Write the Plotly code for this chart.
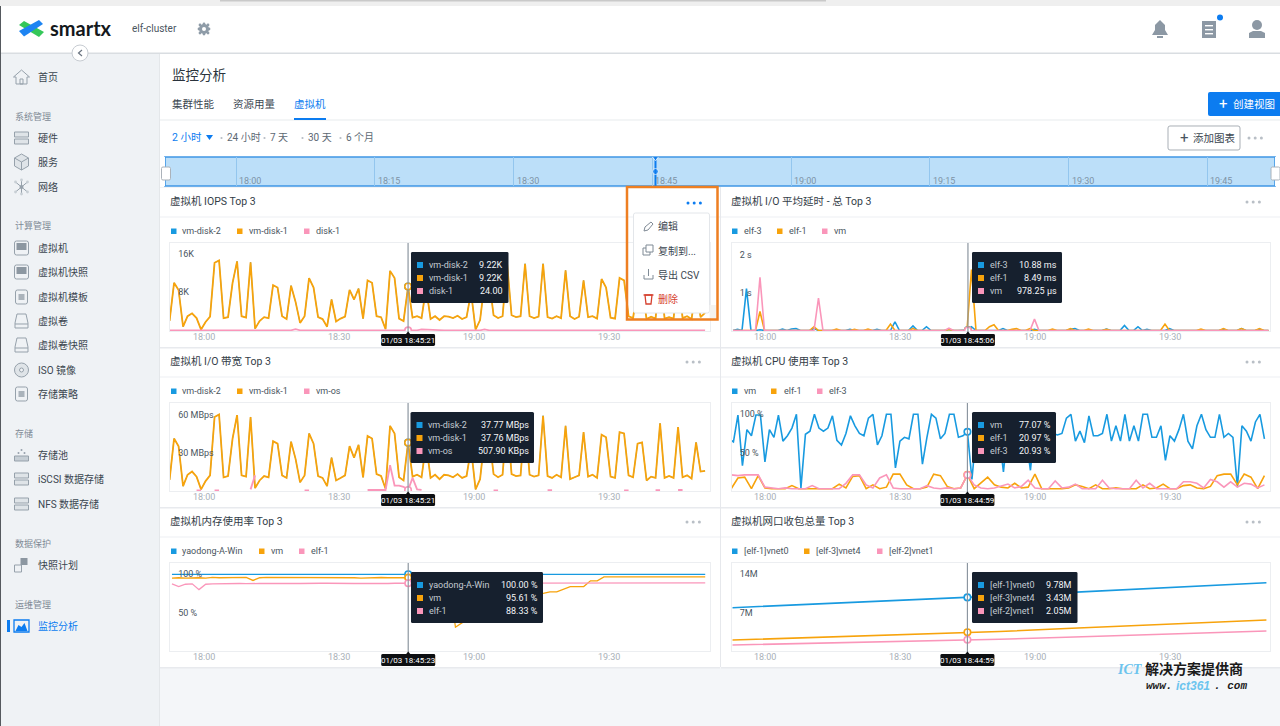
import datetime as dt
import pandas as pd
import plotly.graph_objects as go

W, H = 1280, 726
FONT = "Roboto, 'Noto Sans CJK SC', sans-serif"
BLUE = "#189ae0"
ORANGE = "#f7a30c"
PINK = "#fa96ba"
ACCENT = "#0c7cf0"
DARK = "#16202e"

# ---- chart values ----
iops_names = ["vm-disk-2", "vm-disk-1", "disk-1"]
iops_disk1 = [2.0, 10.0, 8.5, 0.8, 3.0, 3.6, 2.6, 0.2, 1.8, 2.9,
              14.2, 14.7, 2.6, 2.8, 10.0, 14.5, 3.0, 2.7, 14.3, 0.4,
              2.0, 2.8, 2.6, 9.5, 9.0, 3.0, 2.4, 9.4, 6.0, 1.6,
              3.0, 11.0, 9.0, 2.8, 2.4, 0.8, 6.5, 1.9, 2.5, 2.9,
              8.5, 6.5, 8.8, 2.5, 10.5, 10.0, 3.0, 2.8, 0.3, 12.5,
              11.0, 2.5, 2.0, 9.22, 2.7, 3.0, 2.6, 9.0, 2.4, 3.0,
              2.2, 3.0, 2.9, 2.6, 3.1, 2.4, 2.8, 8.0, 0.2, 2.2,
              10.0, 10.8, 3.2, 2.6, 3.0, 14.1, 3.2, 2.8, 3.0, 14.0,
              3.0, 2.6, 2.9, 14.0, 2.8, 2.5, 3.0, 2.6, 12.6, 3.0,
              2.4, 2.9, 10.5, 2.8, 3.0, 2.5, 10.8, 9.0, 2.7, 2.5,
              11.0, 10.5, 3.0, 2.6, 9.0, 9.0, 2.4, 2.9, 2.5, 13.0,
              2.5, 2.8, 2.5, 12.0, 2.6, 3.0, 2.4, 9.3, 2.8, 3.7]
iops_other = [0.05, 0.05, 0.05, 0.05, 0.05, 0.05, 0.05, 0.05, 0.05, 0.05,
              0.05, 0.05, 0.05, 0.05, 0.05, 0.05, 0.05, 0.05, 0.1, 0.05,
              0.05, 0.05, 0.05, 0.05, 0.05, 0.05, 0.05, 0.05, 0.3, 0.05,
              0.05, 0.05, 0.05, 0.05, 0.05, 0.05, 0.05, 0.05, 0.05, 0.05,
              0.05, 0.05, 0.05, 0.2, 0.05, 0.05, 0.05, 0.05, 0.05, 0.05,
              0.05, 0.05, 0.05, 0.024, 0.05, 0.05, 0.25, 0.2, 0.05, 0.05,
              0.05, 0.05, 0.05, 0.05, 0.05, 0.05, 0.05, 0.05, 0.05, 0.05,
              0.25, 0.05, 0.05, 0.05, 0.05, 0.05, 0.05, 0.05, 0.05, 0.05,
              0.05, 0.05, 0.05, 0.05, 0.2, 0.05, 0.05, 0.05, 0.05, 0.05,
              0.05, 0.05, 0.05, 0.05, 0.2, 0.05, 0.05, 0.05, 0.05, 0.05,
              0.05, 0.05, 0.05, 0.05, 0.05, 0.05, 0.05, 0.05, 0.05, 0.05,
              0.05, 0.05, 0.05, 0.05, 0.05, 0.05, 0.15, 0.05, 0.05, 0.0]
iops_ticks = [8, 16]
iops_ticktext = ["8K", "16K"]
iops_hover = [9.22, 9.22, 0.024]
iops_tip = ["9.22K", "9.22K", "24.00"]

latency_names = ["elf-3", "elf-1", "vm"]
latency_elf3 = [0, 0.03, 0, 1.1, 0, 0, 0.02, 0, 0, 0, 0, 0.04, 0, 0.04, 0.05, 0, 0, 0, 0.05, 0,
                0, 0, 0, 0, 0, 0, 0.03, 0, 0, 0, 0, 0, 0.03, 0, 0, 0, 0.23, 0, 0, 0,
                0.12, 0, 0, 0.1, 0, 0, 0, 0, 0.03, 0, 0, 0, 0.011, 0.1, 0, 0, 0, 0, 0, 0,
                0.05, 0, 0, 0, 0, 0, 0, 0.03, 0, 0, 0, 0, 0, 0, 0, 0.03, 0.05, 0, 0, 0,
                0, 0, 0, 0.04, 0, 0, 0, 0.13, 0, 0, 0.1, 0, 0.03, 0, 0, 0, 0, 0.05, 0, 0,
                0, 0, 0, 0, 0, 0, 0, 0, 0, 0.03, 0, 0, 0, 0.05, 0, 0, 0, 0.03, 0, 0]
latency_elf1 = [0, 0, 0, 0, 0, 0, 0.5, 0, 0, 0, 0, 0, 0, 0, 0, 0, 0, 0, 0.1, 0,
                0, 0, 0, 0.04, 0, 0, 0, 0.03, 0, 0, 0.04, 0, 0, 0, 0, 0.17, 0, 0, 0, 0,
                0.05, 0, 0, 0, 0, 0, 0, 0, 0.03, 0, 0, 0, 0.008, 1.6, 0, 0, 0, 0.1, 0.15, 0,
                0, 0, 0.03, 0.05, 0, 0, 0.05, 0, 0, 0, 0, 0.04, 0, 0, 0, 0.05, 0, 0, 0, 0.04,
                0, 0, 0, 0.03, 0, 0, 0, 0, 0, 0, 0, 0, 0, 0, 0, 0, 0.17, 0, 0, 0,
                0, 0, 0, 0, 0.04, 0, 0, 0, 0, 0.05, 0, 0, 0, 0.05, 0, 0, 0, 0.05, 0, 0]
latency_vm = [0, 0, 0, 0, 0, 0, 1.4, 0, 0, 0, 0, 0, 0, 0, 0, 0, 0, 0, 0, 0.85,
              0, 0, 0, 0, 0, 0, 0, 0, 0, 0, 0, 0, 0, 0, 0, 0, 0, 0, 0, 0,
              0, 0, 0, 0, 0, 0, 0, 0, 0.06, 0, 0, 0, 0.001, 0, 0, 0, 0, 0, 0, 0,
              0, 0, 0, 0, 0, 0, 0, 0.3, 0, 0, 0, 0, 0, 0, 0, 0, 0, 0, 0, 0,
              0, 0, 0, 0, 0, 0, 0, 0, 0, 0, 0, 0, 0, 0, 0, 0, 0, 0, 0, 0,
              0, 0, 0, 0, 0, 0, 0, 0, 0, 0, 0, 0, 0, 0, 0, 0, 0, 0, 0, 0]
latency_ticks = [1, 2]
latency_ticktext = ["1 s", "2 s"]
latency_hover = [0.011, 0.008, 0.001]
latency_tip = ["10.88 ms", "8.49 ms", "978.25 μs"]

bw_names = ["vm-disk-2", "vm-disk-1", "vm-os"]
bw_disk1 = [8.5, 41, 35, 3.5, 12.5, 15, 11, 1, 7.5, 12,
            58, 60, 10.5, 11.5, 41, 59.5, 12, 11, 58, 2,
            8, 11.5, 10.5, 39, 37, 12, 10, 38.5, 25, 6.5,
            12, 45, 37, 11.5, 10, 3.5, 26, 8, 10, 12,
            35, 26, 36, 10.5, 43, 41, 13, 11.5, 1.5, 51,
            45, 10.5, 8, 37.76, 11, 12.5, 10.5, 37, 10, 12.5,
            9, 12.5, 12, 10.5, 13, 10, 11.5, 33, 1, 9,
            41, 44, 13, 10.5, 12.5, 58, 13, 11.5, 12, 57,
            12.5, 11, 12, 59, 11.5, 10, 12.5, 10.5, 51, 9,
            10.5, 12, 46, 11, 12.5, 10, 44, 42, 11, 10,
            46, 45, 12, 10.5, 37, 38, 8, 11, 10, 53,
            10, 11.5, 10, 50, 10.5, 12, 9.5, 38, 15, 15.5]
bw_os = [None, None, None, None, None, None, 0.2, 0.2, None, None,
         0.2, 0.2, None, None, None, None, None, None, 1, 12,
         None, None, None, None, None, None, None, None, None, None,
         0.2, 0.2, None, None, None, None, None, None, None, None,
         None, None, None, None, 0.5, 0.6, 0.5, 0.6, 0.5, 20,
         4, 4, 3, 0.5, 10, 1, 0.5, None, None, None,
         None, None, None, None, None, None, None, None, None, None,
         None, None, 0.2, 0.2, None, None, None, None, None, None,
         None, None, None, None, 0.4, 0.4, None, None, None, None,
         None, None, None, None, None, None, None, None, None, None,
         None, 0.2, 0.2, None, None, None, None, None, 0.4, 0.4,
         None, None, None, 0.5, 0.5, None, None, None, None, None]
bw_ticks = [30, 60]
bw_ticktext = ["30 MBps", "60 MBps"]
bw_hover = [37.77, 37.76, 0.5]
bw_tip = ["37.77 MBps", "37.76 MBps", "507.90 KBps"]

cpu_names = ["vm", "elf-1", "elf-3"]
cpu_vm = [68, 64, 99, 33, 80, 72, 99, 99, 38, 80,
          70, 99, 65, 72, 82, 100, 4, 74, 78, 100,
          82, 78, 82, 98, 66, 60, 75, 98, 85, 75,
          72, 95, 100, 60, 72, 100, 100, 30, 65, 70,
          68, 100, 100, 35, 70, 100, 95, 68, 75, 100,
          100, 70, 72, 77.07, 15, 80, 85, 90, 70, 80,
          75, 25, 80, 78, 85, 75, 70, 27, 85, 75,
          75, 70, 75, 73, 75, 95, 100, 65, 78, 63,
          98, 72, 72, 75, 100, 65, 85, 65, 100, 65,
          85, 65, 100, 100, 70, 70, 85, 40, 72, 65,
          80, 100, 65, 55, 85, 100, 80, 70, 70, 100,
          70, 75, 70, 5, 85, 78, 65, 90, 100, 68]
cpu_elf1 = [3, 17, 18, 3, 20, 4, 3, 3, 3, 7,
            3, 3, 3, 3, 3, 3, 9, 4, 19, 20,
            3, 8, 3, 5, 22, 22, 8, 3, 3, 5,
            22, 20, 6, 3, 4, 20.97, 3, 10, 18, 8,
            5, 4, 10, 4, 5, 22, 3, 3, 3, 3,
            4, 8, 6, 3, 8, 3, 3, 4, 3, 3,
            3, 8, 3, 4, 9, 3, 3, 7, 8, 4,
            3, 6, 20, 22, 22, 8, 22, 18, 3, 20]
cpu_elf3 = [21, 20, 21, 21, 21, 5, 4, 3, 4, 3,
            3, 3, 7, 3, 3, 3, 3, 10, 21, 21,
            8, 4, 17, 21, 4, 3, 3, 3, 3, 7,
            4, 3, 4, 3, 4, 20.93, 8, 4, 3, 4,
            7, 9, 4, 6, 14, 4, 3, 3, 13, 4,
            5, 9, 3, 3, 3, 14, 4, 3, 3, 3,
            14, 4, 10, 3, 3, 3, 3, 12, 12, 10,
            4, 15, 12, 5, 12, 5, 10, 9, 4, 8]
cpu_ticks = [50, 100]
cpu_ticktext = ["50 %", "100 %"]
cpu_hover = [77.07, 20.97, 20.93]
cpu_tip = ["77.07 %", "20.97 %", "20.93 %"]

mem_names = ["yaodong-A-Win", "vm", "elf-1"]
mem_win = [100.0, 100.0, 100.0, 100.0, 100.0, 100.0, 100.0, 100.0, 100.0, 100.0,
           100.0, 100.0, 100.0, 100.0, 100.0, 100.0, 100.0, 100.0, 100.0, 100.0,
           100.0, 100.0, 100.0, 100.0, 100.0, 100.0, 100.0, 100.0, 100.0, 100.0,
           100.0, 100.0, 100.0, 100.0, 100.0, 100.0, 100.0, 100.0, 100.0, 100.0,
           100.0, 100.0, 100.0, 100.0, 100.0, 100.0, 100.0, 100.0, 100.0, 100.0,
           100.0, 100.0, 100.0, 100.0, 100.0, 100.0, 100.0, 100.0, 100.0, 100.0,
           100.0, 100.0, 100.0, 100.0, 100.0, 100.0, 100.0, 100.0, 100.0, 100.0,
           100.0, 100.0, 100.0, 100.0, 100.0, 100.0, 100.0, 100.0, 100.0, 100.0]
mem_vm = [95.0, 95.5, 95.0, 95.5, 95.5, 95.0, 96.0, 95.5, 95.5, 95.5,
          95.5, 96.0, 92.0, 95.5, 96.0, 96.0, 95.5, 95.5, 96.0, 95.5,
          95.5, 95.8, 95.5, 96.0, 95.5, 95.8, 95.5, 95.5, 95.0, 95.5,
          95.5, 95.8, 95.5, 95.5, 96.0, 95.61, 95.5, 95.5, 95.8, 95.5,
          95.5, 95.0, 31.0, 37.0, 40.0, 45.0, 50.0, 54.0, 58.0, 62.0,
          65.0, 68.0, 70.0, 72.0, 74.0, 75.0, 77.0, 77.0, 80.0, 84.0,
          84.0, 84.0, 91.5, 91.5, 96.5, 96.5, 96.8, 96.5, 96.8, 96.5,
          96.5, 96.8, 96.5, 96.5, 96.8, 96.5, 96.0, 96.8, 96.5, 96.5]
mem_elf1 = [87.5, 84.0, 87.0, 87.5, 80.0, 87.0, 87.5, 87.8, 88.0, 88.0,
            88.0, 87.8, 88.2, 88.0, 88.0, 87.8, 88.0, 88.2, 88.0, 88.0,
            87.8, 88.0, 88.3, 88.3, 88.0, 88.2, 88.3, 88.0, 88.2, 88.0,
            88.3, 88.2, 88.0, 88.3, 88.2, 88.33, 88.3, 88.2, 88.3, 88.0,
            88.3, 88.5, 88.3, 88.3, 88.5, 88.2, 88.3, 88.5, 88.3, 88.5,
            88.5, 88.3, 88.5, 88.5, 88.5, 88.8, 88.8, 88.5, 88.8, 88.5,
            88.8, 88.5, 88.8, 88.8, 89.0, 88.8, 88.8, 89.2, 88.8, 88.8,
            89.0, 88.8, 88.8, 89.0, 88.8, 89.2, 88.8, 88.8, 89.0, 88.8]
mem_ticks = [50, 100]
mem_ticktext = ["50 %", "100 %"]
mem_hover = [100.0, 95.61, 88.33]
mem_tip = ["100.00 %", "95.61 %", "88.33 %"]

net_names = ["[elf-1]vnet0", "[elf-3]vnet4", "[elf-2]vnet1"]
net_vnet0 = [7.9, 8.42, 8.97, 9.5, 10.06, 10.65, 11.25, 11.85, 12.46]
net_vnet4 = [2.0, 2.4, 2.8, 3.2, 3.55, 4.1, 4.6, 5.1, 5.65]
net_vnet1 = [1.1, 1.35, 1.6, 1.85, 2.15, 2.5, 2.85, 3.25, 3.65]
net_ticks = [7, 14]
net_ticktext = ["7M", "14M"]
net_hover = [9.78, 3.43, 2.05]
net_tip = ["9.78M", "3.43M", "2.05M"]

overview_ticks = ["18:00", "18:15", "18:30", "18:45", "19:00", "19:15", "19:30", "19:45"]
axis_ticks = ["18:00", "18:30", "19:00", "19:30"]

nav_items = ["首页", "硬件", "服务", "网络", "虚拟机", "虚拟机快照", "虚拟机模板", "虚拟卷", "虚拟卷快照",
             "ISO 镜像", "存储策略", "存储池", "iSCSI 数据存储", "NFS 数据存储", "快照计划", "监控分析"]
nav_y = [77, 138, 162, 187, 248, 272, 297, 321, 345, 370, 394, 455, 479, 504, 565, 626]
nav_icon = ["home", "server", "cube", "net", "screen", "screen", "doc", "disk", "disk",
            "cd", "doc", "pool", "server", "server", "snap", "chart"]
nav_sections = ["系统管理", "计算管理", "存储", "数据保护", "运维管理"]
nav_section_y = [116, 226, 433, 543, 604]

DAY = "2018-01-03 "


def tm(s):
    return pd.Timestamp(DAY + s)


shapes = []
annots = []


def px(x):
    return x / W


def py(y):
    return 1 - y / H


def rect(x0, y0, x1, y1, fill=None, line=None, lw=1, layer="below"):
    shapes.append(dict(type="rect", xref="paper", yref="paper", x0=px(x0), x1=px(x1), y0=py(y0), y1=py(y1),
                       fillcolor=fill or "rgba(0,0,0,0)", line=dict(color=line or "rgba(0,0,0,0)", width=lw if line else 0),
                       layer=layer))


def circle(cx, cy, r, fill=None, line=None, lw=1, layer="below"):
    shapes.append(dict(type="circle", xref="paper", yref="paper", x0=px(cx - r), x1=px(cx + r), y0=py(cy - r), y1=py(cy + r),
                       fillcolor=fill or "rgba(0,0,0,0)", line=dict(color=line or "rgba(0,0,0,0)", width=lw if line else 0),
                       layer=layer))


def poly(points, fill=None, line=None, lw=1, layer="below", close=True):
    d = "M" + " L".join("%.5f,%.5f" % (px(a), py(b)) for a, b in points)
    if close:
        d += " Z"
    shapes.append(dict(type="path", xref="paper", yref="paper", path=d, fillcolor=fill or "rgba(0,0,0,0)",
                       line=dict(color=line or "rgba(0,0,0,0)", width=lw if line else 0), layer=layer))


def rrect(x0, y0, x1, y1, r=2, fill=None, line=None, lw=1, layer="below"):
    d = ("M%.5f,%.5f L%.5f,%.5f Q%.5f,%.5f %.5f,%.5f L%.5f,%.5f Q%.5f,%.5f %.5f,%.5f "
         "L%.5f,%.5f Q%.5f,%.5f %.5f,%.5f L%.5f,%.5f Q%.5f,%.5f %.5f,%.5f Z") % (
        px(x0 + r), py(y0), px(x1 - r), py(y0), px(x1), py(y0), px(x1), py(y0 + r),
        px(x1), py(y1 - r), px(x1), py(y1), px(x1 - r), py(y1),
        px(x0 + r), py(y1), px(x0), py(y1), px(x0), py(y1 - r),
        px(x0), py(y0 + r), px(x0), py(y0), px(x0 + r), py(y0))
    shapes.append(dict(type="path", xref="paper", yref="paper", path=d, fillcolor=fill or "rgba(0,0,0,0)",
                       line=dict(color=line or "rgba(0,0,0,0)", width=lw if line else 0), layer=layer))


def text(x, y, s, size=10, color="#3b4650", anchor="left", family=FONT):
    annots.append(dict(xref="paper", yref="paper", x=px(x), y=py(y), text=s, showarrow=False, xanchor=anchor,
                       yanchor="middle", font=dict(size=size, color=color, family=family),
                       borderpad=0, borderwidth=0))


def axis_label(axis, t, y, color, xshift=0):
    # tick text placed through the axis' own time scale
    annots.append(dict(xref=axis, yref="paper", x=DAY + t + ":00", y=py(y), text=t, showarrow=False, xanchor="center",
                       yanchor="middle", xshift=xshift, font=dict(size=9, color=color, family=FONT),
                       borderpad=0, borderwidth=0))


def dots(x, y, color="#b9bfc6", layer="below"):
    for k in range(3):
        circle(x + k * 6.2, y, 1.5, fill=color, layer=layer)


def nav_icon_draw(kind, cx, cy, color="#96a1ab"):
    if kind == "home":
        poly([(cx - 8, cy), (cx, cy - 7), (cx + 8, cy), (cx + 5.5, cy), (cx + 5.5, cy + 7), (cx - 5.5, cy + 7), (cx - 5.5, cy)],
             line=color)
        rect(cx - 1.5, cy + 2, cx + 1.5, cy + 7, line=color)
    elif kind == "server":
        rect(cx - 7, cy - 6, cx + 7, cy - 1, fill="#dfe4e8", line=color)
        rect(cx - 7, cy + 1, cx + 7, cy + 6, fill="#dfe4e8", line=color)
    elif kind == "cube":
        poly([(cx, cy - 8), (cx + 7, cy - 4), (cx + 7, cy + 4), (cx, cy + 8), (cx - 7, cy + 4), (cx - 7, cy - 4)],
             fill="#dfe4e8", line=color)
        poly([(cx - 7, cy - 4), (cx, cy), (cx + 7, cy - 4)], line=color, close=False)
        poly([(cx, cy), (cx, cy + 8)], line=color, close=False)
    elif kind == "net":
        circle(cx, cy, 2, fill=color)
        for a, b in [(-6, -5), (6, -5), (-6, 5), (6, 5), (0, -7), (0, 7)]:
            poly([(cx, cy), (cx + a, cy + b)], line=color, close=False)
            circle(cx + a, cy + b, 1.4, fill="#c8cfd5")
    elif kind == "screen":
        rrect(cx - 7, cy - 7, cx + 7, cy + 7, r=2, line=color)
        rect(cx - 5, cy - 5, cx + 5, cy + 2, fill="#8c97a1")
    elif kind == "doc":
        rrect(cx - 6, cy - 7, cx + 6, cy + 7, r=2, line=color)
        rect(cx - 3, cy - 3, cx + 3, cy + 3, fill="#aab3bb")
    elif kind == "disk":
        poly([(cx - 4.5, cy - 7), (cx + 4.5, cy - 7), (cx + 6.5, cy + 2), (cx + 6.5, cy + 7), (cx - 6.5, cy + 7), (cx - 6.5, cy + 2)],
             line=color)
        poly([(cx - 6.5, cy + 3), (cx + 6.5, cy + 3)], line=color, close=False)
    elif kind == "cd":
        circle(cx, cy, 7, fill="#dfe4e8", line=color)
        circle(cx, cy, 2, fill="#f0f2f5", line=color)
    elif kind == "pool":
        rect(cx - 7, cy + 1, cx + 7, cy + 6, fill="#c6ced5", line=color)
        for a, b in [(-3, -2), (0, -5), (3, -2)]:
            circle(cx + a, cy + b, 1, fill=color)
    elif kind == "snap":
        rect(cx - 1, cy - 7, cx + 6, cy, fill="#8c97a1")
        rect(cx - 7, cy, cx, cy + 7, line=color)
    elif kind == "chart":
        rect(cx - 7.5, cy - 6, cx + 7.5, cy + 6, line=ACCENT, lw=1.3)
        poly([(cx - 6, cy + 5), (cx - 3, cy - 1), (cx, cy + 1), (cx + 3, cy - 3), (cx + 6, cy + 5)], fill=ACCENT)


def build_chrome():
    # page backgrounds
    rect(0, 0, W, 6, fill="#efefef")
    rect(220, 0, 826, 1.6, fill="#c9c9c9")
    rect(0, 6, W, 53, fill="#ffffff")
    rect(0, 52.5, W, 54, fill="#d9dde1")
    rect(0, 54, 160, H, fill="#eff2f5")
    rect(159, 54, 160, H, fill="#e4e7ea")
    rect(160, 54, W, 667, fill="#ffffff")
    rect(0, 6, 1, H, fill="#55595e")

    # header
    poly([(19, 25), (24, 21), (44, 32), (39, 37)], fill="#35c759")
    poly([(19, 31), (39, 20), (43, 24), (24, 36.5)], fill="#1d84f2")
    text(50, 28, "<b>smartx</b>", size=20, color="#14181c", family="Lato, Inter, sans-serif")
    text(132, 28.5, "elf-cluster", size=10, color="#4a5560")
    circle(204, 29, 5, fill="#8f9ca8")
    for a, b in [(-5, 0), (5, 0), (0, -5), (0, 5), (-4, -4), (4, 4), (4, -4), (-4, 4)]:
        circle(204 + a, 29 + b, 1.4, fill="#8f9ca8")
    circle(204, 29, 2, fill="#ffffff")
    poly([(1152, 35), (1155, 30), (1155, 25), (1160, 20), (1165, 25), (1165, 30), (1168, 35)], fill="#8c98a4")
    rect(1157, 36, 1163, 38, fill="#8c98a4")
    rect(1202, 21, 1216, 38, fill="#8c98a4")
    for y in (25, 29, 33):
        rect(1205, y, 1213, y + 1.4, fill="#ffffff")
    circle(1220, 17.5, 3, fill=ACCENT)
    circle(1257, 25, 5, fill="#8c98a4")
    poly([(1249, 38), (1249, 33), (1253, 31), (1261, 31), (1265, 33), (1265, 38)], fill="#8c98a4")
    circle(80, 53, 8, fill="#ffffff", line="#c7ccd2")
    poly([(82, 50), (78.5, 53), (82, 56)], line="#6a7480", lw=1.2, close=False)

    # side menu
    for name, y, kind in zip(nav_items, nav_y, nav_icon):
        active = name == "监控分析"
        nav_icon_draw(kind, 21.5, y)
        text(38, y, name, size=10, color=ACCENT if active else "#3b4650")
    for name, y in zip(nav_sections, nav_section_y):
        text(15, y, name, size=9, color="#7f8a95")
    rect(7, 620, 10, 632, fill=ACCENT)

    # page heading
    text(172, 75, "监控分析", size=13.5, color="#2a333c")
    text(172, 105, "集群性能", size=10.5, color="#3b4650")
    text(233, 105, "资源用量", size=10.5, color="#3b4650")
    text(294, 105, "虚拟机", size=10.5, color=ACCENT)
    rect(160, 119.5, W, 120.5, fill="#e8ebee")
    rect(294, 118, 326, 120, fill=ACCENT)
    rrect(1208, 92, 1282, 116, r=2, fill=ACCENT)
    text(1223, 104, "+", size=15, color="#ffffff", anchor="center")
    text(1233, 104, "创建视图", size=10.5, color="#ffffff")

    text(172, 137.5, "2 小时", size=10.5, color=ACCENT)
    poly([(206, 135), (213, 135), (209.5, 140)], fill=ACCENT)
    for x, label in [(227, "24 小时"), (270, "7 天"), (308, "30 天"), (346, "6 个月")]:
        circle(x - 5.5, 138, 1.1, fill="#b7bdc4")
        text(x, 137.5, label, size=10, color="#5c6873")
    rrect(1168, 126, 1240, 150, r=2, fill="#ffffff", line="#a9afb6")
    text(1184, 137.5, "+", size=15, color="#4a5560", anchor="center")
    text(1193, 138, "添加图表", size=10.5, color="#3b4650")
    dots(1249, 138)

    # overview strip
    rect(160, 156, W, 187, fill="#ffffff")
    rect(165, 157, 1275, 186, fill="#bcdff9", line="#3f97e5", lw=1.6)


def build_menu():
    rrect(633.5, 213, 709.5, 313, r=2, fill="#ffffff", line="#e3e6ea", layer="above")
    rect(627, 187, 717.5, 319.5, line="#ee7f22", lw=2.5, layer="above")
    rect(709.5, 305, 716, 318, fill="#f4f3f0", layer="above")
    dots(688, 203, color=ACCENT, layer="above")
    text(658, 226, "编辑", size=10, color="#3b4650")
    text(658, 250.5, "复制到...", size=10, color="#3b4650")
    text(658, 274.5, "导出 CSV", size=10, color="#3b4650")
    text(658, 299, "删除", size=10, color="#d6412f")
    poly([(644, 231), (645, 227), (651, 222), (653, 224), (648, 230)], line="#7f8a95", layer="above")
    rect(643, 248, 650, 255, line="#7f8a95", layer="above")
    rect(646, 245, 653, 252, fill="#ffffff", line="#7f8a95", layer="above")
    poly([(644, 275), (644, 279), (653, 279), (653, 275)], line="#7f8a95", layer="above", close=False)
    poly([(648.5, 269), (648.5, 276)], line="#7f8a95", layer="above", close=False)
    poly([(645, 295), (652, 295), (651, 304), (646, 304)], line="#d6412f", lw=1.3, layer="above")
    poly([(643.5, 295), (653.5, 295)], line="#d6412f", lw=1.3, layer="above", close=False)


def tooltip(x0, x1, y0, names, tips):
    rrect(x0, y0, x1, y0 + 51, r=1.5, fill=DARK, layer="above")
    for k, (name, tip, col) in enumerate(zip(names, tips, [BLUE, ORANGE, PINK])):
        y = y0 + 13 + k * 13
        rect(x0 + 6, y - 3, x0 + 12, y + 3, fill=col, layer="above")
        text(x0 + 17.5, y, name, size=9, color="#c4cbd2")
        text(x1 - 5.5, y, tip, size=9, color="#f2f4f6", anchor="right")


panels = [
    dict(n=1, left=170, right=709.5, top=243, x18=204, ymax=18.34, ymin=-0.1, title="虚拟机 IOPS Top 3", hx="18:45:21",
         names=iops_names, tip=iops_tip, hover=iops_hover, ticks=iops_ticks, ticktext=iops_ticktext,
         starts=["17:52:21", "17:52:21", "17:52:21"], steps=[1, 1, 1],
         series=[iops_disk1, iops_disk1, iops_other], legend=[171, 182, 237, 249, 304, 316],
         tipx=(411, 508.5), lw=1.8),
    dict(n=2, left=731.5, right=1270, top=243, x18=765, ymax=2.3, ymin=-0.013, title="虚拟机 I/O 平均延时 - 总 Top 3", hx="18:45:06",
         names=latency_names, tip=latency_tip, hover=latency_hover, ticks=latency_ticks, ticktext=latency_ticktext,
         starts=["17:52:53", "17:52:53", "17:52:53"], steps=[1, 1, 1],
         series=[latency_elf3, latency_elf1, latency_vm], legend=[732, 743.5, 777, 789, 822, 834],
         tipx=(972, 1062), lw=1.6),
    dict(n=3, left=170, right=709.5, top=403, x18=204, ymax=69, ymin=-0.3, title="虚拟机 I/O 带宽 Top 3", hx="18:45:21",
         names=bw_names, tip=bw_tip, hover=bw_hover, ticks=bw_ticks, ticktext=bw_ticktext,
         starts=["17:52:21", "17:52:21", "17:52:21"], steps=[1, 1, 1],
         series=[bw_disk1, bw_disk1, bw_os], legend=[171, 182, 237, 249, 304, 316],
         tipx=(410.5, 534), lw=1.8),
    dict(n=4, left=731.5, right=1270, top=403, x18=765, ymax=114.7, ymin=0, title="虚拟机 CPU 使用率 Top 3", hx="18:44:59",
         names=cpu_names, tip=cpu_tip, hover=cpu_hover, ticks=cpu_ticks, ticktext=cpu_ticktext,
         starts=["17:51:59", "17:52:29", "17:52:29"], steps=[1, 1.5, 1.5],
         series=[cpu_vm, cpu_elf1, cpu_elf3], legend=[732, 744, 771, 784, 817, 829],
         tipx=(972, 1056), lw=1.6),
    dict(n=5, left=170, right=709.5, top=563, x18=204, ymax=114.7, ymin=0, title="虚拟机内存使用率 Top 3", hx="18:45:23",
         names=mem_names, tip=mem_tip, hover=mem_hover, ticks=mem_ticks, ticktext=mem_ticktext,
         starts=["17:52:53", "17:52:53", "17:52:53"], steps=[1.5, 1.5, 1.5],
         series=[mem_win, mem_vm, mem_elf1], legend=[171, 182, 259, 271, 299, 311],
         tipx=(411, 543), lw=1.3),
    dict(n=6, left=731.5, right=1270, top=563, x18=765, ymax=16.05, ymin=0, title="虚拟机网口收包总量 Top 3", hx="18:44:59",
         names=net_names, tip=net_tip, hover=net_hover, ticks=net_ticks, ticktext=net_ticktext,
         starts=["17:52:47", "17:52:47", "17:52:47"], steps=[14.83, 14.83, 14.83],
         series=[net_vnet0, net_vnet4, net_vnet1], legend=[732, 743.5, 804, 816, 877, 889],
         tipx=(972, 1077.5), lw=1.6),
]

build_chrome()

fig = go.Figure()
layout = {}

for p in panels:
    n = p["n"]
    sfx = "" if n == 1 else str(n)
    top = p["top"]
    bottom = top + 88
    left_side = p["left"] < 700
    pane_l, pane_r = (160, 720) if left_side else (721, W)

    # panel frame, heading and legend
    text(pane_l + 10, top - 41.5, p["title"], size=10.5, color="#333d47")
    rect(pane_l, top - 26.5, pane_r, top - 25.5, fill="#eef0f3")
    rect(pane_l, bottom + 16, pane_r, bottom + 17.5, fill="#e8eaee")
    if n != 1:
        dots(pane_r - 33 if not left_side else 687, top - 41)
    lg = p["legend"]
    for k, col in enumerate([BLUE, ORANGE, PINK]):
        rect(lg[2 * k], top - 14.5, lg[2 * k] + 5.5, top - 9, fill=col)
        text(lg[2 * k + 1], top - 11.7, p["names"][k], size=9, color="#4a5560")

    # axes
    base = tm("18:00:00")
    x_lo = base + dt.timedelta(minutes=(p["left"] - p["x18"]) / 4.5)
    x_hi = base + dt.timedelta(minutes=(p["right"] - p["x18"]) / 4.5)
    layout["xaxis" + sfx] = dict(domain=[px(p["left"]), px(p["right"])], range=[x_lo, x_hi], anchor="y" + sfx,
                                 showticklabels=False, showgrid=False, zeroline=False, ticks="", showline=True,
                                 mirror=True, linecolor="#eceef1", linewidth=1)
    layout["yaxis" + sfx] = dict(domain=[py(bottom), py(top)], range=[p["ymin"], p["ymax"]], anchor="x" + sfx,
                                 tickvals=p["ticks"], ticktext=p["ticktext"], ticklabelposition="inside",
                                 ticklabelstandoff=7, showgrid=False, zeroline=False, ticks="", showline=True,
                                 mirror=True, linecolor="#eceef1", linewidth=1,
                                 tickfont=dict(size=9, color="#4a5560", family=FONT))
    for t in axis_ticks:
        axis_label("x" + sfx, t, bottom + 5.5, "#a9b0b8")

    # series
    for k, (name, values, col) in enumerate(zip(p["names"], p["series"], [BLUE, ORANGE, PINK])):
        times = pd.date_range(tm(p["starts"][k]), periods=len(values), freq=dt.timedelta(minutes=p["steps"][k]))
        width = p["lw"]
        if k == 0 and values is p["series"][1]:
            width = 0.8  # identical to the next series, which covers it
        fig.add_trace(go.Scatter(x=times, y=values, mode="lines", name=name, showlegend=False,
                                 line=dict(color=col, width=width), xaxis="x" + sfx, yaxis="y" + sfx))

    # crosshair and hover points
    hx = tm(p["hx"])
    shapes.append(dict(type="line", xref="x" + sfx, yref="y%s domain" % sfx, x0=hx, x1=hx, y0=-0.09, y1=1,
                       line=dict(color="#8c96a0", width=1.2), layer="above"))
    fig.add_trace(go.Scatter(x=[hx, hx, hx], y=p["hover"], mode="markers", showlegend=False,
                             marker=dict(size=6.5, color="#ffffff", line=dict(color=[BLUE, ORANGE, PINK], width=1.6)),
                             xaxis="x" + sfx, yaxis="y" + sfx))

    tooltip(p["tipx"][0], p["tipx"][1], top + 9, p["names"], p["tip"])

    # time tag under the crosshair
    cx = p["x18"] + ((hx - base).total_seconds() / 60) * 4.5
    poly([(cx - 2.5, bottom + 3.5), (cx, bottom + 0.5), (cx + 2.5, bottom + 3.5)], fill="#0d0f12", layer="above")
    rrect(cx - 27, bottom + 3, cx + 27, bottom + 15, r=1.5, fill="#0d0f12", layer="above")
    text(cx, bottom + 9, "01/03 " + p["hx"], size=8, color="#ffffff", anchor="center")

rect(720, 187, 721, 667, fill="#e6e8ec")
rect(160, 187, 720, 188, fill="#f2f3f5")

build_menu()

# overview time axis
ov_base = tm("18:00:00")
layout["xaxis7"] = dict(domain=[px(165), px(1275)], anchor="y7",
                        range=[ov_base + dt.timedelta(minutes=(165 - 236) / 9.25), ov_base + dt.timedelta(minutes=(1275 - 236) / 9.25)],
                        tickvals=[tm(t + ":00") for t in overview_ticks], showticklabels=False, ticks="",
                        showgrid=True, gridcolor="#93c6ee", gridwidth=1, zeroline=False)
layout["yaxis7"] = dict(domain=[py(186), py(157)], range=[0, 1], anchor="x7", visible=False)
for t in overview_ticks:
    axis_label("x7", t, 180.5, "#7d93a6", xshift=14)
fig.add_trace(go.Scatter(x=[tm("18:45:21"), tm("18:45:21")], y=[0, 1], mode="lines", showlegend=False,
                         line=dict(color=ACCENT, width=2), xaxis="x7", yaxis="y7"))
fig.add_trace(go.Scatter(x=[tm("18:45:21"), tm("18:45:21")], y=[0.5, 0.97], mode="markers", showlegend=False,
                         marker=dict(size=[6, 6], color=ACCENT, symbol=["circle", "triangle-down"]), xaxis="x7", yaxis="y7"))
rect(160, 157, 165, 186, fill="#ffffff", layer="above")
rect(1275, 157, W, 186, fill="#ffffff", layer="above")
rrect(161.5, 167, 170.5, 180, r=1.5, fill="#ffffff", line="#aab2ba", layer="above")
rrect(1271, 167, 1280, 180, r=1.5, fill="#ffffff", line="#aab2ba", layer="above")

# watermark text from the screenshot
text(1117, 669, "<i><b>ICT</b></i>", size=14, color="#6cc4ee", family="'Liberation Serif', serif")
text(1144.5, 669, "<b>解决方案提供商</b>", size=14, color="#1b1b1b")
text(1146, 685.5, "<b><i>www.</i></b>", size=11, color="#1b1b1b", family="'Liberation Mono', monospace")
text(1176, 685.5, "<b><i>ict361</i></b>", size=12, color="#6cc4ee", family="'Liberation Sans', sans-serif")
text(1214, 685.5, "<b><i>. com</i></b>", size=11, color="#1b1b1b", family="'Liberation Mono', monospace")

fig.update_layout(width=W, height=H, margin=dict(l=0, r=0, t=0, b=0, autoexpand=False),
                  paper_bgcolor="#f4f6f9", plot_bgcolor="rgba(0,0,0,0)", showlegend=False,
                  shapes=shapes, annotations=annots, font=dict(family=FONT), **layout)

fig.write_html("out.html", config={"displayModeBar": False}, post_script="document.body.style.margin='0';")
